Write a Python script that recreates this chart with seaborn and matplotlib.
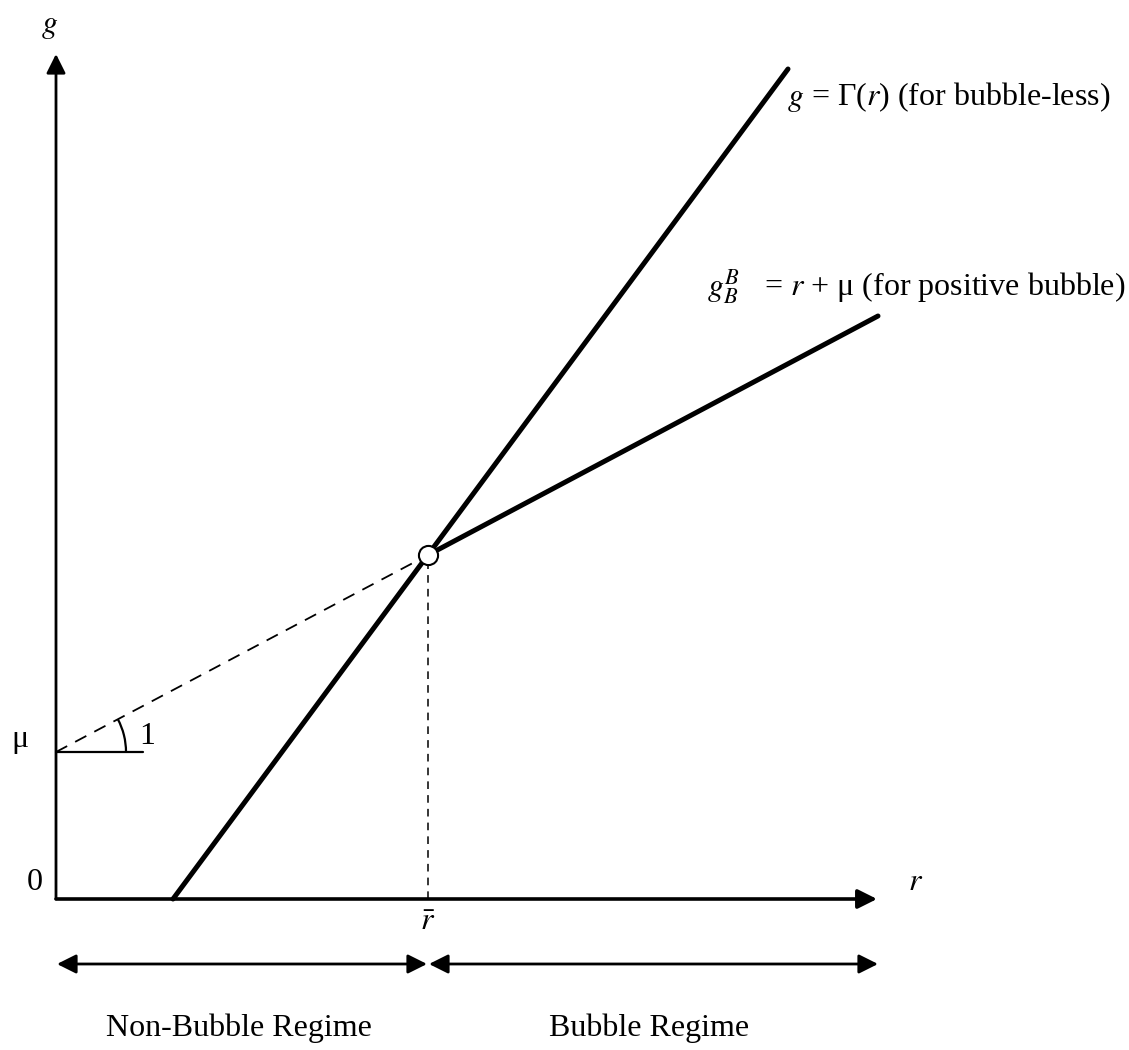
import matplotlib
matplotlib.use("Agg")
import matplotlib.pyplot as plt
from matplotlib.patches import Arc
import seaborn as sns

# diagram values (data units, origin at the axes corner)
mu = 1.47
r_bar = 3.72
g_bar = 3.44
r_max = 8.21
g_max = 8.45

gamma_r = [1.17, 7.32]          # g = Gamma(r), bubble-less
gamma_g = [0.0, 8.30]
bubble_r = [r_bar, 8.22]        # g = r + mu, positive bubble
bubble_g = [g_bar, 5.83]
dashed_r = [0.0, r_bar]         # extension of r + mu back to the g axis
dashed_g = [mu, g_bar]
mu_tick_r = [0.0, 0.87]
slope_deg = 28

sns.set_style("white")
plt.rcParams["font.family"] = ["Liberation Serif", "DejaVu Serif"]
plt.rcParams["mathtext.fontset"] = "stix"
plt.rcParams["text.color"] = "black"

fig = plt.figure(figsize=(11.29, 10.5), dpi=100)
ax = fig.add_axes([0, 0, 1, 1])
ax.set_xlim(-0.56, 10.73)
ax.set_ylim(-1.51, 8.99)
ax.axis("off")

head = dict(color="black", shrinkA=0, shrinkB=0, mutation_scale=29)

# axes with arrow heads
ax.annotate("", xy=(0, g_max), xytext=(0, 0),
            arrowprops=dict(arrowstyle="-|>,head_length=0.4,head_width=0.2", lw=2.0, **head))
ax.annotate("", xy=(r_max, 0), xytext=(0, 0),
            arrowprops=dict(arrowstyle="-|>,head_length=0.4,head_width=0.2", lw=2.6, **head))

# main curves
sns.lineplot(x=gamma_r, y=gamma_g, ax=ax, color="black", lw=3.6, estimator=None)
sns.lineplot(x=bubble_r, y=bubble_g, ax=ax, color="black", lw=3.6, estimator=None)
ax.plot(dashed_r, dashed_g, color="black", lw=1.3, dashes=(7, 5))
ax.plot([r_bar, r_bar], [0, g_bar], color="black", lw=1.1, dashes=(5, 4))

# slope marker at mu
ax.plot(mu_tick_r, [mu, mu], color="black", lw=1.6)
ax.add_patch(Arc((0, mu), 1.40, 1.40, theta1=0, theta2=slope_deg, color="black", lw=1.6))

sns.scatterplot(x=[r_bar], y=[g_bar], ax=ax, s=190, color="white",
                edgecolor="black", linewidth=1.5, zorder=5)

# regime arrows
ax.annotate("", xy=(0.01, -0.65), xytext=(r_bar - 0.01, -0.65),
            arrowprops=dict(arrowstyle="<|-|>,head_length=0.4,head_width=0.2", lw=2.0, **head))
ax.annotate("", xy=(r_bar + 0.01, -0.65), xytext=(r_max + 0.01, -0.65),
            arrowprops=dict(arrowstyle="<|-|>,head_length=0.4,head_width=0.2", lw=2.0, **head))

fs = 23
ax.text(-0.06, 8.72, "$g$", fontsize=fs, ha="center", va="center")
ax.text(8.60, 0.16, "$r$", fontsize=fs, ha="center", va="center")
ax.text(-0.21, 0.17, "0", fontsize=fs, ha="center", va="center")
ax.text(-0.36, 1.59, "μ", fontsize=fs, ha="center", va="center")
ax.text(0.91, 1.62, "1", fontsize=fs, ha="center", va="center")
ax.text(r_bar, -0.23, r"$\bar{r}$", fontsize=fs, ha="center", va="center")

ax.text(7.31, 8.02, "$g$ = Γ($r$) (for bubble-less)", fontsize=fs, ha="left", va="center")
ax.text(6.51, 6.12, "$g_B^B$   = $r$ + μ (for positive bubble)", fontsize=fs, ha="left", va="center")

ax.text(1.83, -1.29, "Non-Bubble Regime", fontsize=fs, ha="center", va="center")
ax.text(5.93, -1.29, "Bubble Regime", fontsize=fs, ha="center", va="center")

fig.savefig("out.png", dpi=100, facecolor="white")
